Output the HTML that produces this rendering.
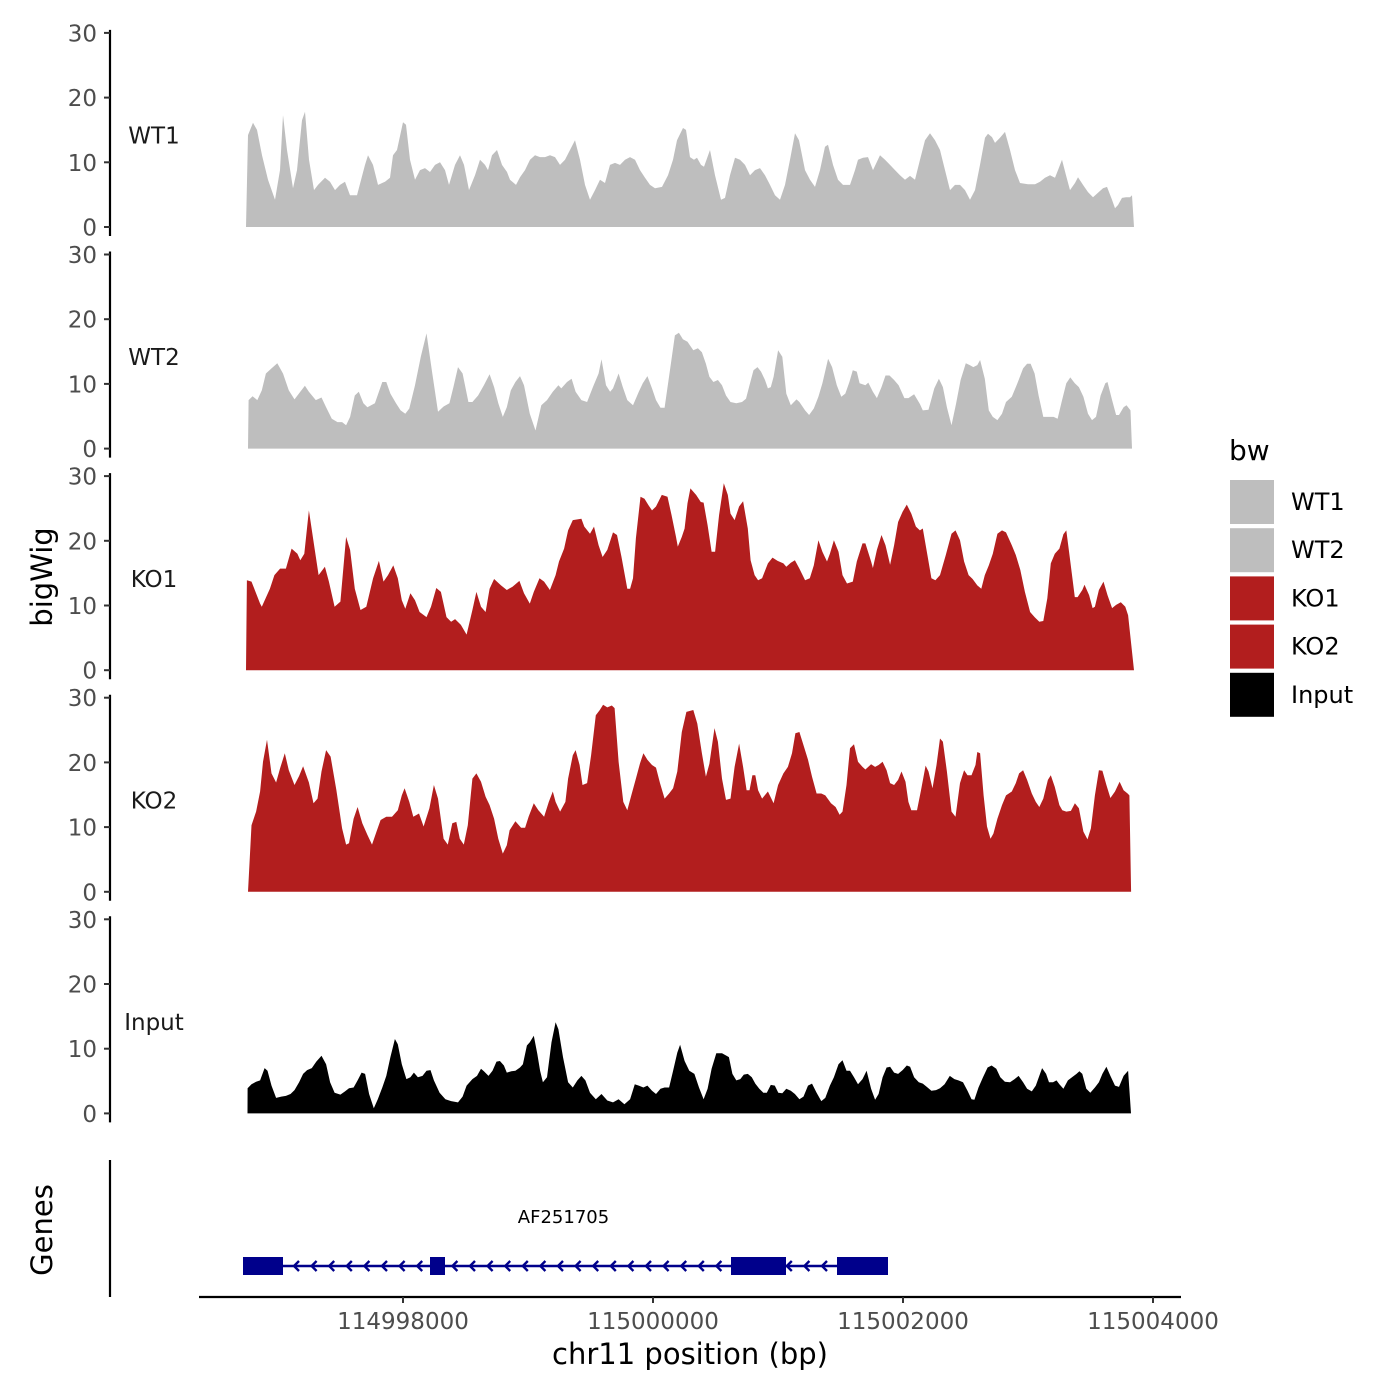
<!DOCTYPE html>
<html><head><meta charset="utf-8"><style>
html,body{margin:0;padding:0;background:#fff;}
svg{display:block;font-family:"DejaVu Sans","Liberation Sans",sans-serif;}
</style></head><body>
<svg id="chart" width="1400" height="1400" viewBox="0 0 1400 1400" xmlns="http://www.w3.org/2000/svg">
<rect width="1400" height="1400" fill="#fff"/>
<text transform="translate(52,577) rotate(-90)" text-anchor="middle" font-size="29">bigWig</text>
<text transform="translate(52,1230) rotate(-90)" text-anchor="middle" font-size="29">Genes</text>
<text x="690" y="1364" text-anchor="middle" font-size="29">chr11 position (bp)</text>
<g id="legend">
<text x="1229" y="460" font-size="28">bw</text>
</g>
</svg>
<script>
const regionStart = 114996744;
const xTicks = [114998000, 115000000, 115002000, 115004000];
const yTicks = [0, 10, 20, 30];
const trackNames = ["WT1", "WT2", "KO1", "KO2", "Input"];
const trackColors = ["#bebebe", "#bebebe", "#b21e1e", "#b21e1e", "#000000"];

const wt1Pos = [0,16,56,88,128,176,232,272,296,328,376,408,448,472,504,544,576,632,672,712,752,792,832,888,952,976,1016,1056,1112,1152,1176,1208,1256,1280,1312,1352,1392,1432,1472,1512,1552,1592,1624,1672,1712,1744,1784,1832,1872,1912,1936,1968,2008,2048,2088,2112,2160,2192,2232,2272,2312,2352,2392,2432,2472,2512,2552,2592,2632,2672,2712,2752,2792,2832,2872,2912,2952,2992,3032,3072,3112,3152,3192,3232,3272,3328,3376,3416,3448,3496,3520,3552,3584,3608,3640,3664,3712,3752,3800,3832,3872,3912,3952,3992,4032,4072,4112,4152,4192,4232,4272,4312,4352,4392,4424,4472,4512,4552,4592,4632,4656,4696,4736,4776,4832,4872,4896,4936,4976,5016,5072,5112,5152,5192,5232,5272,5312,5352,5392,5432,5472,5512,5552,5592,5632,5672,5712,5752,5792,5832,5872,5912,5936,5968,5992,6032,6072,6112,6152,6192,6256,6312,6352,6392,6432,6472,6496,6528,6560,6592,6632,6656,6696,6736,6776,6816,6856,6888,6928,6952,6976,7008,7040,7072,7088,7104];
const wt1Val = [0,14.2,16.1,15.0,11.1,7.3,4.2,8.8,17.3,11.9,6.0,8.8,16.5,17.8,10.4,5.7,6.5,7.6,7.0,5.7,6.5,7.0,4.9,4.9,9.6,11.1,9.6,6.5,7.0,7.6,11.1,11.9,16.2,15.8,10.4,7.3,8.8,9.1,8.5,9.6,10.0,8.8,6.5,9.6,11.1,9.6,5.7,8.0,10.4,9.6,8.8,11.1,11.9,9.6,8.5,7.3,6.5,7.7,8.8,10.4,11.1,10.8,10.8,11.1,10.8,9.6,10.4,11.9,13.4,10.4,6.5,4.2,5.7,7.3,6.8,9.6,9.9,9.6,10.4,10.8,10.4,8.8,7.6,6.5,6.0,6.2,8.0,10.4,13.4,15.3,15.0,10.8,10.4,10.7,9.6,9.3,11.9,8.0,4.2,4.5,8.0,10.7,10.4,9.6,8.0,8.8,9.1,8.0,6.5,4.9,4.2,6.5,10.4,14.5,13.4,8.8,7.3,6.2,8.8,12.4,12.7,9.6,7.3,6.5,6.5,8.8,10.4,10.7,10.8,8.8,11.1,10.4,9.6,8.8,8.0,7.3,7.9,7.3,10.4,13.4,14.5,13.4,11.9,8.8,5.7,6.5,6.5,5.7,4.2,5.7,9.6,13.8,14.4,13.9,13.0,13.8,14.7,11.9,8.8,6.8,6.6,6.6,7.0,7.6,8.0,7.6,8.8,10.4,8.0,5.7,6.8,7.7,6.5,5.4,4.6,5.3,6.0,6.2,4.2,2.9,3.4,4.5,4.6,4.6,4.9,0];

const wt2Pos = [16,21,53,90,126,159,204,250,296,342,388,434,471,503,558,604,641,686,732,769,801,833,870,902,939,971,1031,1090,1122,1155,1200,1237,1274,1306,1352,1398,1444,1490,1536,1581,1627,1659,1696,1733,1779,1811,1857,1903,1949,1985,2018,2054,2086,2118,2155,2192,2224,2270,2316,2362,2408,2454,2499,2522,2568,2605,2637,2683,2729,2775,2821,2844,2880,2913,2936,2981,3014,3050,3096,3142,3174,3211,3248,3280,3316,3349,3395,3431,3463,3495,3532,3578,3615,3647,3679,3707,3739,3775,3808,3840,3876,3922,3968,4000,4028,4060,4092,4120,4152,4175,4198,4221,4257,4290,4322,4358,4404,4427,4473,4505,4542,4579,4611,4657,4689,4726,4762,4794,4827,4854,4886,4909,4955,4978,5015,5047,5084,5116,5148,5185,5221,5267,5299,5345,5391,5414,5460,5506,5543,5575,5607,5644,5680,5717,5758,5790,5818,5850,5873,5910,5942,5974,6011,6048,6080,6126,6171,6217,6249,6277,6309,6341,6378,6415,6461,6493,6525,6562,6594,6630,6663,6699,6736,6768,6800,6837,6874,6892,6929,6961,6984,7021,7044,7076,7088];
const wt2Val = [0,7.5,8.1,7.5,9.0,11.6,12.4,13.2,11.6,9.0,7.6,8.8,9.7,8.8,7.5,7.9,6.4,4.6,4.1,4.1,3.6,4.9,8.2,8.8,7.0,6.4,7.0,10.3,10.3,8.5,7.0,5.9,5.4,6.2,9.8,14.2,17.8,11.6,5.7,6.5,7.0,9.5,12.6,11.6,7.2,7.2,8.2,9.8,11.5,9.5,7.0,4.9,6.4,9.0,10.3,11.2,9.8,5.4,2.8,6.7,7.5,8.8,9.8,9.3,10.3,10.8,8.8,7.5,7.2,9.5,11.6,13.8,9.8,8.8,9.3,11.6,9.5,7.5,6.7,8.8,10.1,11.2,9.3,7.5,6.3,6.3,12.6,17.5,17.9,16.9,16.5,15.2,15.5,14.9,13.1,11.1,10.3,10.6,9.8,8.2,7.2,7.0,7.2,7.7,9.8,12.1,12.6,11.9,10.6,9.3,9.5,11.1,15.2,14.2,8.5,6.7,7.6,7.2,5.9,5.2,6.2,8.0,10.1,13.9,12.6,9.8,8.0,8.5,10.3,12.1,11.9,10.1,9.8,10.2,8.8,7.8,9.5,11.3,11.3,10.6,9.8,7.8,7.8,8.4,6.9,5.9,6.0,9.3,10.8,9.5,6.4,3.6,6.9,10.6,13.2,12.9,12.6,12.9,13.7,10.8,5.9,4.9,4.4,5.4,7.2,8.0,10.1,12.4,13.1,13.1,11.6,8.2,4.9,4.9,4.9,4.6,7.2,10.1,11.0,10.1,9.5,8.0,5.4,4.4,4.9,8.2,10.1,10.3,7.5,5.2,5.2,6.4,6.7,5.9,0];

const ko1Pos = [0,7,44,113,126,191,227,273,319,365,411,434,466,503,549,581,631,663,709,755,801,833,870,916,962,1017,1063,1100,1136,1178,1214,1246,1274,1315,1352,1389,1444,1480,1522,1559,1604,1641,1673,1719,1765,1811,1843,1880,1917,1949,1985,2040,2086,2132,2187,2224,2270,2302,2348,2385,2431,2477,2504,2545,2577,2614,2683,2706,2752,2784,2821,2853,2890,2936,2968,3004,3050,3073,3096,3119,3156,3188,3220,3248,3280,3326,3372,3404,3440,3454,3486,3509,3532,3555,3601,3638,3661,3693,3725,3753,3785,3822,3854,3876,3909,3945,3977,4014,4037,4069,4097,4129,4175,4212,4253,4299,4322,4358,4391,4427,4473,4510,4542,4579,4611,4648,4671,4703,4740,4772,4808,4854,4886,4932,4955,5001,5015,5047,5084,5116,5153,5185,5217,5253,5286,5322,5359,5391,5414,5451,5483,5515,5552,5598,5644,5676,5712,5745,5781,5813,5850,5882,5910,5942,5974,6011,6048,6080,6126,6158,6194,6231,6273,6309,6346,6378,6410,6438,6470,6507,6539,6562,6594,6630,6653,6690,6708,6745,6773,6791,6823,6860,6892,6929,6961,6998,7034,7057,7104];
const ko1Val = [0,13.9,13.7,10.3,9.8,12.6,14.7,15.7,15.7,18.8,18.0,17.0,18.0,24.7,18.8,14.7,16.0,13.7,9.8,10.6,20.6,18.6,12.6,9.3,9.8,14.2,16.9,13.7,14.7,16.2,14.2,10.8,9.5,11.9,10.8,9.0,8.2,9.8,12.7,12.1,8.2,7.5,7.9,7.0,5.5,9.3,12.1,9.8,9.0,12.6,14.1,13.1,12.4,12.9,13.8,11.9,10.3,12.1,14.2,13.7,12.4,14.7,16.8,18.8,21.6,23.2,23.4,22.2,21.1,22.2,19.3,17.5,18.6,21.3,20.9,17.5,12.6,12.6,14.2,20.4,26.8,26.5,25.5,24.7,25.3,27.1,26.8,24.0,20.6,19.1,20.6,21.9,25.8,28.1,27.1,26.0,25.9,22.4,18.3,18.3,24.0,28.9,27.1,24.2,23.2,25.3,26.1,21.9,17.0,14.7,13.9,14.2,16.5,17.4,16.9,16.5,16.0,16.6,17.0,15.7,13.9,14.2,16.2,20.1,18.3,16.8,18.0,20.1,18.3,14.7,13.4,13.7,16.8,19.6,19.6,16.8,15.8,18.6,20.9,19.3,16.3,19.3,22.9,24.5,25.6,24.2,22.2,21.6,21.9,17.8,14.2,13.9,14.7,17.8,21.1,21.6,20.1,16.8,14.7,14.1,13.1,12.6,14.7,16.2,18.0,21.1,21.6,21.3,19.3,17.8,15.5,12.1,9.0,8.2,7.5,7.6,11.1,16.5,18.0,18.8,21.0,21.6,16.8,11.3,11.3,12.4,13.2,11.6,9.6,9.8,12.4,13.7,11.6,9.6,10.1,10.5,9.8,8.5,0];

const ko2Pos = [16,44,81,113,136,168,204,241,273,310,342,388,425,457,503,540,572,604,641,677,723,769,801,824,861,893,930,971,1008,1044,1077,1122,1168,1214,1246,1269,1306,1338,1384,1421,1467,1503,1536,1581,1614,1650,1682,1710,1742,1774,1811,1843,1880,1917,1949,1985,2018,2054,2086,2109,2155,2201,2233,2261,2302,2339,2385,2422,2454,2477,2513,2555,2577,2614,2637,2669,2692,2729,2761,2798,2830,2857,2890,2926,2949,2981,3018,3050,3082,3119,3151,3179,3211,3248,3280,3312,3349,3385,3417,3450,3486,3523,3578,3610,3647,3679,3707,3748,3775,3808,3840,3876,3909,3945,3977,4005,4028,4051,4074,4097,4129,4175,4221,4257,4299,4335,4368,4395,4427,4459,4496,4528,4565,4602,4634,4680,4717,4749,4772,4804,4832,4864,4896,4932,4955,5001,5033,5061,5093,5125,5153,5185,5217,5244,5276,5299,5322,5368,5400,5437,5460,5492,5524,5552,5575,5607,5644,5676,5712,5745,5772,5804,5836,5850,5873,5901,5928,5956,5979,6011,6048,6080,6126,6158,6185,6217,6249,6286,6318,6346,6378,6415,6438,6470,6507,6530,6562,6599,6631,6663,6699,6732,6759,6791,6823,6851,6883,6915,6952,6989,7021,7053,7067,7081];
const ko2Val = [0,10.3,12.4,15.5,20.1,23.5,18.3,16.9,19.1,21.4,18.8,16.5,17.9,19.4,16.9,13.7,14.4,18.6,21.9,20.9,15.7,9.8,7.3,7.5,11.3,13.1,10.6,8.8,7.3,9.3,11.1,11.6,11.6,12.6,14.9,16.0,13.9,11.6,12.1,10.1,12.9,16.5,14.4,8.2,7.3,10.6,10.8,8.2,7.3,10.3,17.5,18.3,17.0,14.7,13.4,11.3,8.2,5.9,7.2,9.5,10.9,9.9,9.9,11.6,13.7,12.6,11.6,13.9,15.5,13.9,12.4,13.9,17.5,21.1,21.9,19.6,16.5,16.8,21.1,27.3,28.1,28.9,28.5,28.8,28.4,20.1,13.9,12.6,14.9,17.5,19.8,21.4,20.4,19.6,19.2,16.8,14.4,15.2,16.0,18.6,24.7,27.8,28.1,26.0,21.4,17.8,19.8,25.3,23.2,17.5,14.2,14.4,19.3,22.9,19.3,15.7,15.7,18.0,18.0,15.7,14.4,15.5,13.7,16.5,18.3,19.3,21.4,24.5,24.7,22.7,20.4,17.8,15.2,15.2,14.9,13.7,13.1,11.9,12.4,16.5,22.2,22.8,20.1,19.3,18.9,19.7,19.3,19.6,20.1,18.8,16.8,16.5,17.3,18.6,17.0,13.9,12.6,12.6,15.7,19.5,18.6,16.0,19.6,23.7,23.2,18.6,12.4,11.6,16.8,18.8,18.0,18.0,19.6,21.6,21.4,14.9,10.1,8.2,9.0,11.3,13.4,14.9,15.5,16.8,18.3,18.8,17.3,15.2,13.9,13.1,14.4,17.3,18.0,16.2,13.4,12.6,12.4,12.5,13.7,12.9,9.3,8.1,9.8,14.9,18.8,18.7,16.5,14.5,15.5,17.0,15.7,15.2,14.9,0];

const inputPos = [12,13,44,81,113,149,172,204,241,282,319,356,388,425,457,489,526,562,604,641,673,709,755,792,824,861,893,925,953,985,1022,1054,1090,1122,1155,1191,1214,1246,1283,1315,1343,1375,1412,1444,1476,1503,1549,1595,1641,1696,1733,1765,1811,1848,1880,1903,1940,1972,2004,2031,2063,2086,2123,2155,2192,2215,2247,2270,2302,2330,2353,2375,2408,2444,2477,2499,2536,2577,2614,2651,2683,2715,2752,2798,2844,2890,2936,2981,3027,3073,3110,3142,3179,3211,3248,3280,3316,3349,3385,3417,3450,3473,3509,3546,3587,3624,3661,3693,3725,3762,3808,3844,3863,3891,3922,3954,3982,4014,4046,4074,4106,4138,4166,4198,4230,4258,4290,4322,4358,4391,4427,4460,4496,4528,4565,4602,4634,4671,4703,4740,4772,4804,4832,4864,4896,4932,4965,5001,5033,5061,5093,5125,5153,5185,5217,5253,5286,5313,5345,5382,5414,5446,5483,5520,5552,5589,5630,5667,5699,5736,5772,5804,5827,5860,5896,5933,5965,6002,6034,6071,6112,6149,6181,6217,6249,6286,6318,6346,6369,6401,6424,6456,6484,6507,6539,6575,6608,6644,6667,6690,6722,6754,6791,6823,6851,6883,6915,6952,6984,7021,7057,7080];
const inputVal = [0,3.9,4.5,4.9,5.1,7.0,6.6,4.3,2.4,2.6,2.7,3.0,3.6,4.8,6.1,6.7,7.0,8.0,8.9,7.6,4.8,3.2,2.9,3.4,3.9,4.0,5.1,6.3,6.1,3.0,0.8,2.2,4.0,5.8,8.7,11.5,10.7,7.6,5.3,5.6,6.3,5.6,5.8,6.6,6.7,5.1,3.2,2.2,1.9,1.7,2.6,4.3,5.3,5.8,6.9,6.5,5.8,6.6,8.0,8.1,7.4,6.3,6.5,6.6,7.1,7.6,10.5,11.0,12.0,9.2,6.6,4.8,5.6,11.0,14.1,13.0,8.7,4.8,4.0,5.1,5.8,5.1,3.2,2.2,3.0,2.0,1.7,2.2,1.4,2.2,4.5,4.3,4.0,4.3,3.5,3.0,3.8,4.0,4.0,6.6,9.4,10.6,8.1,6.6,6.1,4.0,2.2,3.8,6.9,9.3,9.3,8.9,8.7,6.1,5.1,5.3,6.0,6.1,5.6,4.6,3.8,3.2,3.2,4.4,4.3,3.2,3.1,3.8,3.5,3.0,2.2,2.6,4.3,4.6,3.2,1.9,2.4,4.3,5.6,7.6,8.2,6.6,6.6,5.6,4.5,5.3,6.6,3.8,2.1,3.0,5.6,7.1,7.2,6.3,6.1,6.7,7.4,7.2,5.6,4.8,4.6,4.1,3.5,3.6,3.9,4.5,5.8,5.3,5.1,4.8,3.5,2.2,2.1,4.0,5.6,7.1,7.4,6.9,5.6,4.9,4.8,5.3,5.8,4.8,3.8,3.4,4.3,5.8,7.0,6.1,4.8,4.8,5.1,4.5,3.8,5.1,5.6,6.1,6.5,6.1,3.8,3.2,4.0,4.8,6.1,7.2,5.8,4.3,4.1,5.8,6.6,0];

const geneName = ["AF251705"];
const geneStart = [114996720];
const geneEnd = [115001880];
const exonStarts = [114996720, 114998216, 115000624, 115001472];
const exonEnds = [114997040, 114998336, 115001064, 115001880];

const NS = "http://www.w3.org/2000/svg";
const svg = document.getElementById("chart");
function mk(tag, attrs, parent) {
  const e = document.createElementNS(NS, tag);
  for (const k in attrs) e.setAttribute(k, attrs[k]);
  (parent || svg).appendChild(e);
  return e;
}
function xScale(bp) { return 403 + (bp - 114998000) / 8; }
const panelZero = [227, 448.6, 670.2, 891.8, 1113.4];
const pxPerUnit = 6.47;
function yScale(panel, v) { return panelZero[panel] - v * pxPerUnit; }

const posArrays = [wt1Pos, wt2Pos, ko1Pos, ko2Pos, inputPos];
const valArrays = [wt1Val, wt2Val, ko1Val, ko2Val, inputVal];

for (let p = 0; p < 5; p++) {
  const g = mk("g", {});
  
  
  const y0 = yScale(p, 0), y30 = yScale(p, 30);
  const ax = mk("line", {x1: 110, x2: 110, y1: y30 - 3, y2: y0 + 9, stroke: "#000", "stroke-width": 2.2}, g);
  
  
  for (const t of yTicks) {
    const ty = yScale(p, t);
    const tk = mk("line", {x1: 104, x2: 110, y1: ty, y2: ty, stroke: "#333", "stroke-width": 2}, g);
    
    
    const tl = mk("text", {x: 97, y: ty + 8.5, "text-anchor": "end", "font-size": 23, fill: "#4d4d4d"}, g);
    
    
    tl.textContent = String(t);
  }
  const lab = mk("text", {x: 154, y: yScale(p, 14.2) + 8.5, "text-anchor": "middle", "font-size": 23, fill: "#1a1a1a"}, g);
  
  
  lab.textContent = trackNames[p];
  const pos = posArrays[p], val = valArrays[p];
  let d = "M" + xScale(regionStart + pos[0]).toFixed(1) + "," + y0.toFixed(1);
  for (let i = 0; i < pos.length; i++) {
    d += "L" + xScale(regionStart + pos[i]).toFixed(1) + "," + yScale(p, val[i]).toFixed(1);
  }
  d += "L" + xScale(regionStart + pos[pos.length - 1]).toFixed(1) + "," + y0.toFixed(1) + "Z";
  const area = mk("path", {d: d, fill: trackColors[p]}, g);
  
  
}

// genes panel
const gAx = mk("line", {x1: 110, x2: 110, y1: 1160, y2: 1297, stroke: "#000", "stroke-width": 2.2});


const xAx = mk("line", {x1: 199, x2: 1181, y1: 1297, y2: 1297, stroke: "#000", "stroke-width": 2.2});


for (const t of xTicks) {
  const tx = xScale(t);
  const tk = mk("line", {x1: tx, x2: tx, y1: 1297, y2: 1303, stroke: "#333", "stroke-width": 2});
  
  
  const tl = mk("text", {x: tx, y: 1329, "text-anchor": "middle", "font-size": 23, fill: "#4d4d4d"});
  
  
  tl.textContent = String(t);
}
const geneG = mk("g", {});


const gy = 1266;
const gl = mk("line", {x1: xScale(geneStart[0]), x2: xScale(geneEnd[0]), y1: gy, y2: gy, stroke: "#00008b", "stroke-width": 2.5}, geneG);


for (let xa = xScale(geneStart[0]) + 52; xa < xScale(geneEnd[0]); xa += 17.6) {
  const ch = mk("polyline", {points: (xa + 4) + "," + (gy - 5) + " " + (xa - 1) + "," + gy + " " + (xa + 4) + "," + (gy + 5), fill: "none", stroke: "#00008b", "stroke-width": 2.4}, geneG);
  
  
}
for (let i = 0; i < exonStarts.length; i++) {
  const x1 = xScale(exonStarts[i]), x2 = xScale(exonEnds[i]);
  const ex = mk("rect", {x: x1, y: gy - 9, width: x2 - x1, height: 18, fill: "#00008b"}, geneG);
  
  
}
const gname = mk("text", {x: (xScale(geneStart[0]) + xScale(geneEnd[0])) / 2 - 2, y: 1223, "text-anchor": "middle", "font-size": 18, fill: "#000"}, geneG);


gname.textContent = geneName[0];

// legend
const legend = document.getElementById("legend");
for (let i = 0; i < 5; i++) {
  const ky = 480 + i * 48.2;
  const r = mk("rect", {x: 1230, y: ky, width: 44, height: 44, fill: trackColors[i]}, legend);
  
  
  const t = mk("text", {x: 1291, y: ky + 30, "font-size": 24, fill: "#000"}, legend);
  
  
  t.textContent = trackNames[i];
}
</script>
</body></html>
